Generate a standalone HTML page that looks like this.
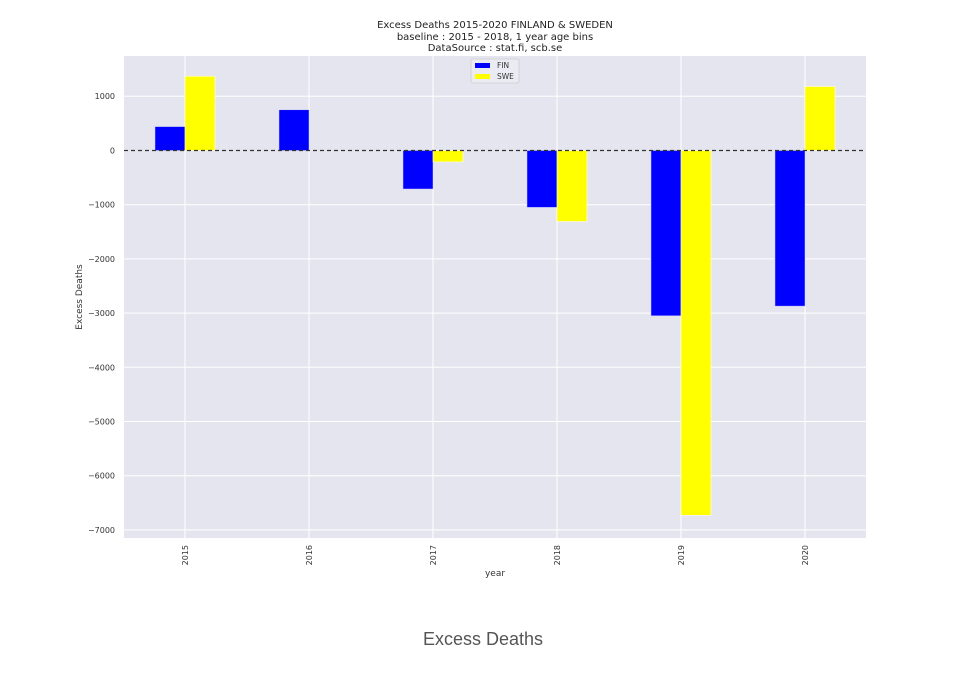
<!DOCTYPE html>
<html><head><style>body{margin:0;background:#fff}</style></head><body>
<svg width="955" height="683" xmlns="http://www.w3.org/2000/svg" font-family="DejaVu Sans, Liberation Sans, sans-serif">
<rect width="955" height="683" fill="#fff"/>
<text font-size="10" fill="#222" text-anchor="middle"><tspan x="495" y="28">Excess Deaths 2015-2020 FINLAND &amp; SWEDEN</tspan><tspan x="495" y="40">baseline : 2015 - 2018, 1 year age bins</tspan><tspan x="495" y="51">DataSource : stat.fi, scb.se</tspan></text>
<rect x="124" y="56" width="742" height="482" fill="#e5e5ef"/>
<g stroke="#fff" stroke-width="1">
<line x1="124" x2="866" y1="96.3" y2="96.3"/><line x1="124" x2="866" y1="204.7" y2="204.7"/><line x1="124" x2="866" y1="258.9" y2="258.9"/><line x1="124" x2="866" y1="313.1" y2="313.1"/><line x1="124" x2="866" y1="367.3" y2="367.3"/><line x1="124" x2="866" y1="421.5" y2="421.5"/><line x1="124" x2="866" y1="475.7" y2="475.7"/><line x1="124" x2="866" y1="529.9" y2="529.9"/>
<line y1="56" y2="538" x1="185" x2="185"/><line y1="56" y2="538" x1="309" x2="309"/><line y1="56" y2="538" x1="433" x2="433"/><line y1="56" y2="538" x1="557" x2="557"/><line y1="56" y2="538" x1="681" x2="681"/><line y1="56" y2="538" x1="805" x2="805"/>
</g>
<g stroke="#c8c8ff" stroke-width="0.5">
<rect x="155" y="126.6" width="30" height="23.9" fill="#0000ff"/>
<rect x="185" y="76.2" width="30" height="74.3" fill="#ffff00" stroke="#fff"/>
<rect x="279" y="109.8" width="30" height="40.7" fill="#0000ff"/>
<rect x="403" y="150.5" width="30" height="38.5" fill="#0000ff"/>
<rect x="433" y="150.5" width="30" height="11.4" fill="#ffff00" stroke="#fff"/>
<rect x="527" y="150.5" width="30" height="56.9" fill="#0000ff"/>
<rect x="557" y="150.5" width="30" height="71" fill="#ffff00" stroke="#fff"/>
<rect x="651" y="150.5" width="30" height="165.3" fill="#0000ff"/>
<rect x="681" y="150.5" width="30" height="364.8" fill="#ffff00" stroke="#fff"/>
<rect x="775" y="150.5" width="30" height="155.6" fill="#0000ff"/>
<rect x="805" y="86.5" width="30" height="64" fill="#ffff00" stroke="#fff"/>
</g>
<line x1="124" x2="866" y1="150.5" y2="150.5" stroke="#333" stroke-width="1.2" stroke-dasharray="4,3"/>
<rect x="471" y="59" width="48" height="24" fill="#ebebf3" stroke="#ccc" stroke-width="0.8" rx="2"/>
<rect x="475" y="63" width="15" height="5" fill="#0000ff"/><text x="497" y="68" font-size="7.5" fill="#333">FIN</text>
<rect x="475" y="74" width="15" height="5" fill="#ffff00"/><text x="497" y="79" font-size="7.5" fill="#333">SWE</text>
<g font-size="8" fill="#333" text-anchor="end">
<text x="115" y="99">1000</text><text x="115" y="153.5">0</text><text x="115" y="207.7">−1000</text><text x="115" y="261.9">−2000</text><text x="115" y="316.1">−3000</text><text x="115" y="370.3">−4000</text><text x="115" y="424.5">−5000</text><text x="115" y="478.7">−6000</text><text x="115" y="532.9">−7000</text>
</g>
<g font-size="8" fill="#333" text-anchor="end">
<text transform="translate(188,545) rotate(-90)">2015</text><text transform="translate(312,545) rotate(-90)">2016</text><text transform="translate(436,545) rotate(-90)">2017</text><text transform="translate(560,545) rotate(-90)">2018</text><text transform="translate(684,545) rotate(-90)">2019</text><text transform="translate(808,545) rotate(-90)">2020</text>
</g>
<text x="495" y="576" font-size="9" fill="#333" text-anchor="middle">year</text>
<text transform="translate(82,297) rotate(-90)" font-size="9" fill="#333" text-anchor="middle">Excess Deaths</text>
<text x="483" y="645" font-size="18" fill="#555" text-anchor="middle" font-family="Liberation Sans, sans-serif">Excess Deaths</text>
</svg>
</body></html>
